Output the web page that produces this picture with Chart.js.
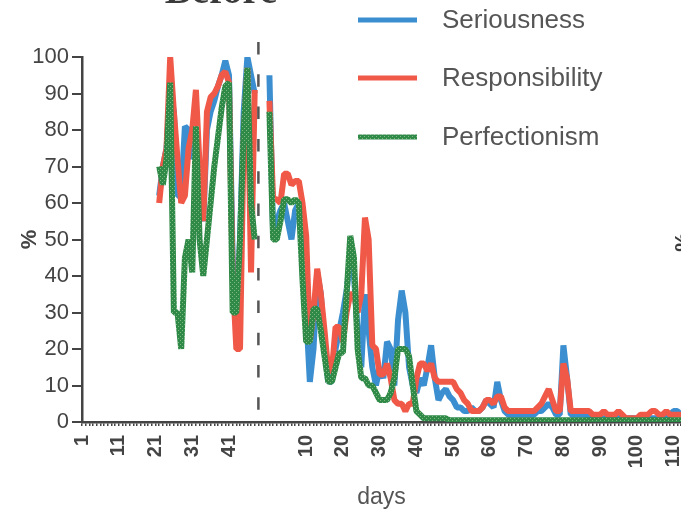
<!DOCTYPE html>
<html>
<head>
<meta charset="utf-8">
<script src="https://cdn.jsdelivr.net/npm/chart.js@4/dist/chart.umd.min.js"></script>
<style>
  html, body { margin: 0; padding: 0; background: #fff; }
  #wrap { width: 681px; height: 512px; position: relative; }
</style>
</head>
<body>
<div id="wrap"><canvas id="chart"></canvas></div>
<script>
// categories: days before (1..48) and after (0..112) the dashed line
const preDays = Array.from({ length: 48 }, (_, i) => i + 1);
const postDays = Array.from({ length: 113 }, (_, i) => i);
const gapSlots = 3;
const firstBeforeDay = 22;

// tick labels shown on the x axis
const preTickLabels = [1, 11, 21, 31, 41];
const postTickLabels = [10, 20, 30, 40, 50, 60, 70, 80, 90, 100, 110];
const yTicks = [0, 10, 20, 30, 40, 50, 60, 70, 80, 90, 100];

const seriesNames = ['Seriousness', 'Responsibility', 'Perfectionism'];

// before: days 22..48 (%)
const seriousnessBefore = [62, 70, 75, 90, 85, 62, 62, 81, 80, 72, 80, 60, 55, 80, 85, 88, 92, 95, 99, 95, 45, 25, 50, 85, 100, 95, 90];
const responsibilityBefore = [60, 70, 75, 100, 85, 72, 60, 62, 75, 80, 91, 70, 55, 85, 89, 90, 92, 95, 96, 93, 40, 20, 20, 78, 97, 41, 91];
const perfectionismBefore = [70, 65, 72, 93, 30, 30, 20, 45, 50, 41, 81, 50, 40, 50, 60, 70, 78, 86, 92, 93, 30, 30, 50, 80, 97, 60, 50];

// after: days 0..112 (%)
const seriousnessAfter = [
  95, 52, 55, 58, 60, 55, 50, 58, 60, 55,
  30, 11, 20, 41, 35, 20, 11, 11, 20, 25,
  30, 36, 45, 40, 25, 15, 35, 25, 15, 10,
  15, 12, 22, 20, 10, 28, 36, 30, 15, 10,
  8, 12, 10, 15, 21, 12, 6, 8, 9, 7,
  6, 4, 4, 3, 3, 4, 3, 3, 4, 6,
  5, 4, 11, 6, 3, 2, 2, 2, 2, 2,
  2, 2, 2, 3, 3, 4, 5, 4, 2, 2,
  21, 12, 2, 2, 2, 2, 2, 1, 1, 1,
  1, 1, 1, 1, 1, 2, 1, 1, 1, 1,
  1, 1, 1, 1, 1, 1, 1, 1, 1, 2,
  3, 3, 2
];
const responsibilityAfter = [
  88, 61, 61, 60, 68, 68, 65, 66, 66, 60,
  51, 22, 30, 42, 35, 25, 14, 14, 26, 26,
  22, 30, 35, 35, 30, 35, 56, 50, 21, 20,
  13, 13, 16, 12, 6, 5, 5, 3, 5, 5,
  12, 16, 16, 14, 16, 12, 11, 11, 11, 11,
  11, 9, 8, 6, 5, 3, 3, 3, 4, 6,
  6, 5, 7, 7, 4, 3, 3, 3, 3, 3,
  3, 3, 3, 4, 5, 7, 9, 6, 3, 3,
  16, 12, 3, 3, 3, 3, 3, 3, 2, 2,
  2, 3, 2, 2, 2, 3, 2, 1, 1, 1,
  1, 2, 2, 2, 3, 3, 2, 2, 3, 2,
  2, 2, 2
];
const perfectionismAfter = [
  85, 50, 50, 55, 61, 61, 60, 61, 60, 39,
  22, 22, 31, 31, 25, 18, 11, 11, 15, 19,
  19, 35, 51, 45, 20, 12, 12, 10, 10, 8,
  6, 6, 6, 8, 12, 20, 20, 20, 18, 10,
  3, 2, 1, 1, 1, 1, 1, 1, 1, 0.5,
  0.5, 0.5, 0.5, 0.5, 0.5, 0.5, 0.5, 0.5, 0.5, 0.5,
  0.5, 0.5, 0.5, 0.5, 0.5, 0.5, 0.5, 0.5, 0.5, 0.5,
  0.5, 0.5, 0.5, 0.5, 0.5, 0.5, 0.5, 0.5, 0.5, 0.5,
  0.5, 0.5, 0.5, 0.5, 0.5, 0.5, 0.5, 0.5, 0.5, 0.5,
  0.5, 0.5, 0.5, 0.5, 0.5, 0.5, 0.5, 0.5, 0.5, 0.5,
  0.5, 0.5, 0.5, 0.5, 0.5, 0.5, 0.5, 0.5, 0.5, 0.5,
  0.5, 0.5, 0.5
];

const labels = [
  ...preDays.map(d => 'before ' + d),
  ...Array(gapSlots).fill(''),
  ...postDays.map(d => 'after ' + d)
];

function fullSeries(before, after) {
  const pre = preDays.map(d => {
    const k = d - firstBeforeDay;
    return k >= 0 && k < before.length ? before[k] : null;
  });
  return [...pre, ...Array(gapSlots).fill(null), ...after];
}

// speckled green like the printed original
function speckle(base, light) {
  const c = document.createElement('canvas');
  c.width = 4; c.height = 4;
  const g = c.getContext('2d');
  g.fillStyle = base; g.fillRect(0, 0, 4, 4);
  g.fillStyle = light; g.fillRect(0, 0, 1, 1); g.fillRect(2, 2, 1, 1);
  return g.createPattern(c, 'repeat');
}

const blue = '#3b8fd0';
const red = '#f05848';
const green = speckle('#2f8a48', '#7fb884');

const extras = {
  id: 'extras',
  afterDatasetsDraw(chart) {
    const ctx = chart.ctx;
    const x = chart.scales.x.getPixelForValue(preDays.length);
    ctx.save();
    ctx.strokeStyle = '#555';
    ctx.lineWidth = 2.5;
    ctx.setLineDash([12.5, 19.8]);
    ctx.beginPath();
    ctx.moveTo(x, 42);
    ctx.lineTo(x, 412);
    ctx.stroke();
    ctx.restore();
  },
  afterDraw(chart) {
    const ctx = chart.ctx;
    ctx.save();
    // legend
    const rows = [20, 78, 137];
    chart.data.datasets.forEach((ds, i) => {
      ctx.strokeStyle = ds.borderColor;
      ctx.lineWidth = 5;
      ctx.beginPath();
      ctx.moveTo(358, rows[i]);
      ctx.lineTo(417, rows[i]);
      ctx.stroke();
      ctx.fillStyle = '#555';
      ctx.font = '26px "Liberation Sans", Arial, sans-serif';
      ctx.textBaseline = 'middle';
      ctx.textAlign = 'left';
      ctx.fillText(ds.label, 442, rows[i] + 1);
    });
    // panel title, cut off by the top edge
    ctx.fillStyle = '#3a3a3a';
    ctx.font = 'bold 40px "Liberation Serif", serif';
    ctx.textAlign = 'center';
    ctx.textBaseline = 'alphabetic';
    ctx.fillText('Before', 221, 3);
    // next panel's axis label, cut off by the right edge
    ctx.translate(684, 242);
    ctx.rotate(-Math.PI / 2);
    ctx.font = 'bold 22px "Liberation Sans", Arial, sans-serif';
    ctx.textBaseline = 'middle';
    ctx.fillText('%', 0, 0);
    ctx.restore();
  }
};

Chart.defaults.font.family = '"Liberation Sans", Arial, sans-serif';
Chart.defaults.color = '#444';

const ctx = document.getElementById('chart').getContext('2d');
new Chart(ctx, {
  type: 'line',
  data: {
    labels: labels,
    datasets: [
      { label: seriesNames[0], data: fullSeries(seriousnessBefore, seriousnessAfter), borderColor: blue, backgroundColor: blue, order: 3 },
      { label: seriesNames[1], data: fullSeries(responsibilityBefore, responsibilityAfter), borderColor: red, backgroundColor: red, order: 2 },
      { label: seriesNames[2], data: fullSeries(perfectionismBefore, perfectionismAfter), borderColor: green, backgroundColor: green, order: 1 }
    ]
  },
  options: {
    responsive: true,
    maintainAspectRatio: false,
    animation: false,
    layout: { padding: { top: 57, right: 0, bottom: 0, left: 0 } },
    elements: {
      line: { borderWidth: 6, tension: 0, borderJoinStyle: 'bevel', borderCapStyle: 'butt', spanGaps: false },
      point: { radius: 0, hoverRadius: 0 }
    },
    plugins: {
      legend: { display: false },
      tooltip: { enabled: false }
    },
    scales: {
      x: {
        type: 'category',
        offset: false,
        border: { display: true, color: '#444', width: 2.5 },
        grid: { drawOnChartArea: false, drawTicks: true, tickLength: 4, color: '#444', lineWidth: 1.5 },
        ticks: {
          autoSkip: false,
          minRotation: 90,
          maxRotation: 90,
          padding: 9,
          color: '#444',
          font: { size: 20, weight: 'bold' },
          callback: function (value, index) {
            const lab = labels[index];
            if (lab.startsWith('before ')) {
              const d = Number(lab.slice(7));
              return preTickLabels.includes(d) ? String(d) : '';
            }
            if (lab.startsWith('after ')) {
              const d = Number(lab.slice(6));
              return postTickLabels.includes(d) ? String(d) : '';
            }
            return '';
          }
        },
        title: { display: true, text: 'days', color: '#555', font: { size: 23 }, padding: { top: 0, bottom: 1 } },
        afterFit: function (scale) {
          scale.height = 90;
          scale.paddingLeft = 0;
          scale.paddingRight = 0;
        }
      },
      y: {
        min: 0,
        max: 100,
        afterBuildTicks: function (scale) {
          scale.ticks = yTicks.map(v => ({ value: v }));
        },
        border: { display: true, color: '#444', width: 2.5 },
        grid: { drawOnChartArea: false, drawTicks: true, tickLength: 10, color: '#444', lineWidth: 2 },
        ticks: { padding: 3, color: '#444', font: { size: 22 } },
        title: { display: true, text: '%', color: '#444', font: { size: 22, weight: 'bold' }, padding: { top: 17, bottom: 0 } },
        afterFit: function (scale) {
          scale.width = 82;
          scale.paddingTop = 0;
          scale.paddingBottom = 0;
        }
      }
    }
  },
  plugins: [extras]
});
</script>
</body>
</html>
